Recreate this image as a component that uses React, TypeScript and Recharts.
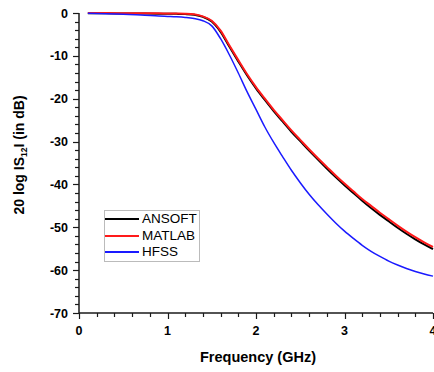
import React from 'react';
import { LineChart, Line, XAxis, YAxis, Legend } from 'recharts';

const freq = [0.1, 0.3, 0.5, 0.7, 0.9, 1.0, 1.1, 1.2, 1.3, 1.4, 1.5, 1.6, 1.7, 1.8, 1.9, 2.0, 2.1, 2.2, 2.3, 2.4, 2.5, 2.6, 2.7, 2.8, 2.9, 3.0, 3.1, 3.2, 3.3, 3.4, 3.5, 3.6, 3.7, 3.8, 3.9, 4.0];
const ansoft = [-0.05, -0.08, -0.1, -0.12, -0.15, -0.18, -0.2, -0.25, -0.4, -0.9, -2.0, -4.4, -7.9, -11.3, -14.6, -17.6, -20.3, -22.9, -25.3, -27.7, -29.9, -32.1, -34.2, -36.3, -38.3, -40.2, -42.0, -43.8, -45.5, -47.1, -48.6, -50.1, -51.5, -52.8, -54.0, -55.1];
const matlab = [0, -0.02, -0.04, -0.06, -0.08, -0.1, -0.12, -0.16, -0.3, -0.8, -1.8, -4.1, -7.6, -11.0, -14.3, -17.3, -20.0, -22.6, -25.0, -27.4, -29.6, -31.8, -33.9, -35.9, -37.9, -39.8, -41.6, -43.4, -45.0, -46.6, -48.1, -49.6, -51.0, -52.3, -53.5, -54.6];
const hfss = [-0.05, -0.15, -0.3, -0.45, -0.7, -0.8, -0.9, -1.05, -1.3, -1.8, -3.0, -6.0, -9.8, -14.0, -18.4, -22.5, -26.6, -30.2, -33.5, -36.7, -39.6, -42.3, -44.7, -46.9, -49.0, -50.9, -52.6, -54.2, -55.6, -56.8, -57.9, -58.8, -59.6, -60.3, -60.9, -61.4];

const seriesNames = ['ANSOFT', 'MATLAB', 'HFSS'];
const seriesColors = ['#000000', '#ff1a1a', '#1a1aff'];
const seriesWidths = [2, 2, 1.5];

const xTicks = [0, 0.2, 0.4, 0.6, 0.8, 1, 1.2, 1.4, 1.6, 1.8, 2, 2.2, 2.4, 2.6, 2.8, 3, 3.2, 3.4, 3.6, 3.8, 4];
const yTicks = [-70, -68, -66, -64, -62, -60, -58, -56, -54, -52, -50, -48, -46, -44, -42, -40, -38, -36, -34, -32, -30, -28, -26, -24, -22, -20, -18, -16, -14, -12, -10, -8, -6, -4, -2, 0];

const xLabel = 'Frequency (GHz)';

const data = freq.map((f, i) => ({ f, ANSOFT: ansoft[i], MATLAB: matlab[i], HFSS: hfss[i] }));

const FONT = '"Liberation Sans", Arial, sans-serif';
const AXIS = '#1a1a1a';

const isMajor = (v: number, step: number) => Math.abs(v / step - Math.round(v / step)) < 1e-6;

const XTick = (props: any) => {
  const { x, y, payload } = props;
  const v = payload.value;
  const major = isMajor(v, 1);
  const px = Math.round(x) + 0.5;
  return (
    <g>
      <path d={`M${px},${y}L${px},${y + (major ? 6 : 4)}`} stroke={AXIS} strokeWidth={1.2} fill="none" />
      {major && (
        <text x={x} y={y + 22} textAnchor="middle" fontFamily={FONT} fontWeight="bold" fontSize={12.5} fill="#000">
          {String(Math.round(v))}
        </text>
      )}
    </g>
  );
};

const YTick = (props: any) => {
  const { x, y, payload } = props;
  const v = payload.value;
  const major = isMajor(v, 10);
  const py = Math.round(y) + 0.5;
  return (
    <g>
      <path d={`M${x - (major ? 6 : 4)},${py}L${x},${py}`} stroke={AXIS} strokeWidth={1.2} fill="none" />
      {major && (
        <text x={x - 11} y={y + 4.5} textAnchor="end" fontFamily={FONT} fontWeight="bold" fontSize={12.5} fill="#000">
          {String(Math.round(v))}
        </text>
      )}
    </g>
  );
};

const YLabel = (props: any) => {
  const vb = props.viewBox || {};
  const cx = (vb.x || 0) + 24;
  const cy = (vb.y || 0) + vb.height / 2 - 8;
  return (
    <text
      x={cx}
      y={cy}
      transform={`rotate(-90, ${cx}, ${cy})`}
      textAnchor="middle"
      fontFamily={FONT}
      fontWeight="bold"
      fontSize={14}
      fill="#000"
    >
      <tspan>20 log IS</tspan>
      <tspan fontSize={8.5} dy={3}>12</tspan>
      <tspan dy={-3}>I (in dB)</tspan>
    </text>
  );
};

const XLabel = (props: any) => {
  const vb = props.viewBox || {};
  const cx = (vb.x || 0) + vb.width / 2 + 2;
  const cy = (vb.y || 0) + 49;
  return (
    <text x={cx} y={cy} textAnchor="middle" fontFamily={FONT} fontWeight="bold" fontSize={14.5} fill="#000">
      {xLabel}
    </text>
  );
};

const renderLegend = () => (
  <div
    style={{
      border: '1px solid #bbbbbb',
      background: '#fff',
      padding: '0px 2px 0px 0px',
      fontFamily: FONT,
      fontSize: 13.5,
      color: '#000',
    }}
  >
    {seriesNames.map((n, i) => (
      <div key={n} style={{ display: 'flex', alignItems: 'center', height: 16.5, lineHeight: '16.5px' }}>
        <svg width={34} height={4} style={{ display: 'block' }}>
          <line x1={0} y1={2} x2={34} y2={2} stroke={seriesColors[i]} strokeWidth={2} />
        </svg>
        <span style={{ marginLeft: 3 }}>{n}</span>
      </div>
    ))}
  </div>
);

export default function App() {
  return (
    <div style={{ position: 'absolute', left: 0, top: 0, width: 434, height: 372, background: '#fff' }}>
      <LineChart width={434} height={372} data={data} margin={{ top: 13, right: 1, bottom: 0, left: 0 }}>
        <XAxis
          dataKey="f"
          type="number"
          domain={[0, 4]}
          ticks={xTicks}
          interval={0}
          height={59}
          tickSize={0}
          tickMargin={0}
          tickLine={false}
          tick={<XTick />}
          axisLine={{ stroke: AXIS, strokeWidth: 1.5 }}
          label={{ content: (p: any) => <XLabel {...p} /> }}
        />
        <XAxis
          xAxisId="top"
          orientation="top"
          dataKey="f"
          type="number"
          domain={[0, 4]}
          height={0}
          tick={false}
          tickLine={false}
          axisLine={{ stroke: AXIS, strokeWidth: 1.5 }}
        />
        <YAxis
          type="number"
          domain={[-70, 0]}
          ticks={yTicks}
          interval={0}
          width={79}
          tickSize={0}
          tickMargin={0}
          tickLine={false}
          tick={<YTick />}
          axisLine={{ stroke: AXIS, strokeWidth: 1.5 }}
          label={{ content: (p: any) => <YLabel {...p} /> }}
        />
        <YAxis
          yAxisId="right"
          orientation="right"
          type="number"
          domain={[-70, 0]}
          width={0}
          tick={false}
          tickLine={false}
          axisLine={{ stroke: '#c8c8c8', strokeWidth: 1 }}
        />
        <Legend
          layout="vertical"
          align="center"
          verticalAlign="middle"
          content={renderLegend}
          wrapperStyle={{ position: 'absolute', left: 104, top: 210, width: 'auto', height: 'auto' }}
        />
        {seriesNames.map((n, i) => (
          <Line
            key={n}
            dataKey={n}
            type="monotone"
            stroke={seriesColors[i]}
            strokeWidth={seriesWidths[i]}
            dot={false}
            activeDot={false}
            isAnimationActive={false}
          />
        ))}
      </LineChart>
    </div>
  );
}
